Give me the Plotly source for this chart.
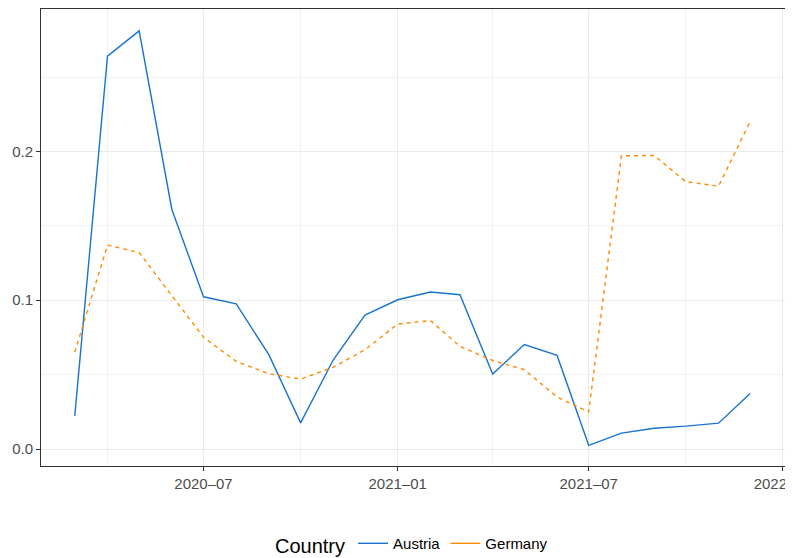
import pandas as pd
import plotly.graph_objects as go

months = pd.date_range('2020-03-01', '2021-12-01', freq='MS')

austria = [0.0223, 0.264, 0.281, 0.161, 0.1023, 0.0975, 0.0633, 0.0176, 0.060, 0.090,
           0.1003, 0.1055, 0.1037, 0.0504, 0.0702, 0.0629, 0.0025, 0.0107, 0.014, 0.0154,
           0.0174, 0.0373]
germany = [0.0651, 0.137, 0.132, 0.103, 0.0751, 0.0589, 0.0506, 0.047, 0.055, 0.0667,
           0.084, 0.0863, 0.069, 0.0595, 0.0533, 0.035, 0.025, 0.197, 0.1973, 0.1797,
           0.1766, 0.220]

blue = '#1874CD'
orange = '#FF8C00'

fig = go.Figure()
fig.add_trace(go.Scatter(x=months, y=austria, mode='lines', name='Austria', showlegend=False,
                         line=dict(color=blue, width=1.4)))
fig.add_trace(go.Scatter(x=months, y=germany, mode='lines', name='Germany', showlegend=False,
                         line=dict(color=orange, width=1.4, dash='4px,4px')))
# legend keys drawn as plain solid lines, like the original
fig.add_trace(go.Scatter(x=[None], y=[None], mode='lines', name='Austria',
                         line=dict(color=blue, width=1.4)))
fig.add_trace(go.Scatter(x=[None], y=[None], mode='lines', name='Germany',
                         line=dict(color=orange, width=1.4)))

axis_font = dict(family='Liberation Sans, Arial', size=15, color='#4d4d4d')

fig.update_xaxes(
    range=['2020-01-29', '2022-01-03'],
    tickformat='%Y–%m', dtick='M6', tick0='2020-07-01',
    tickfont=axis_font, ticks='outside', ticklen=4, tickcolor='#333333',
    ticklabeloverflow='allow', automargin=False,
    showgrid=True, gridcolor='#ebebeb', gridwidth=1,
    minor=dict(dtick='M3', tick0='2020-04-01', showgrid=True, gridcolor='#f2f2f2', gridwidth=0.6),
    showline=True, linecolor='#333333', linewidth=1, mirror=True,
    zeroline=False,
)
fig.update_yaxes(
    range=[-0.0114, 0.2957],
    dtick=0.1, tick0=0, tickformat='.1f',
    tickfont=axis_font, ticks='outside', ticklen=4, tickcolor='#333333',
    automargin=False,
    showgrid=True, gridcolor='#ebebeb', gridwidth=1,
    minor=dict(dtick=0.05, tick0=0, showgrid=True, gridcolor='#f2f2f2', gridwidth=0.6),
    showline=True, linecolor='#333333', linewidth=1, mirror=True,
    zeroline=False,
)

# the page body adds an 8px offset, so the figure is a bit smaller than the window
fig.update_layout(
    width=785, height=550,
    margin=dict(l=33, r=8, t=1, b=92, autoexpand=False),
    plot_bgcolor='white', paper_bgcolor='white',
    font=dict(family='Liberation Sans, Arial', color='black'),
    legend=dict(
        orientation='h', x=0.5, xanchor='center', y=-0.173, yanchor='middle',
        title=dict(text='Country', font=dict(size=20, color='black')),
        font=dict(size=15, color='black'),
    ),
)

fig.write_html('out.html')
